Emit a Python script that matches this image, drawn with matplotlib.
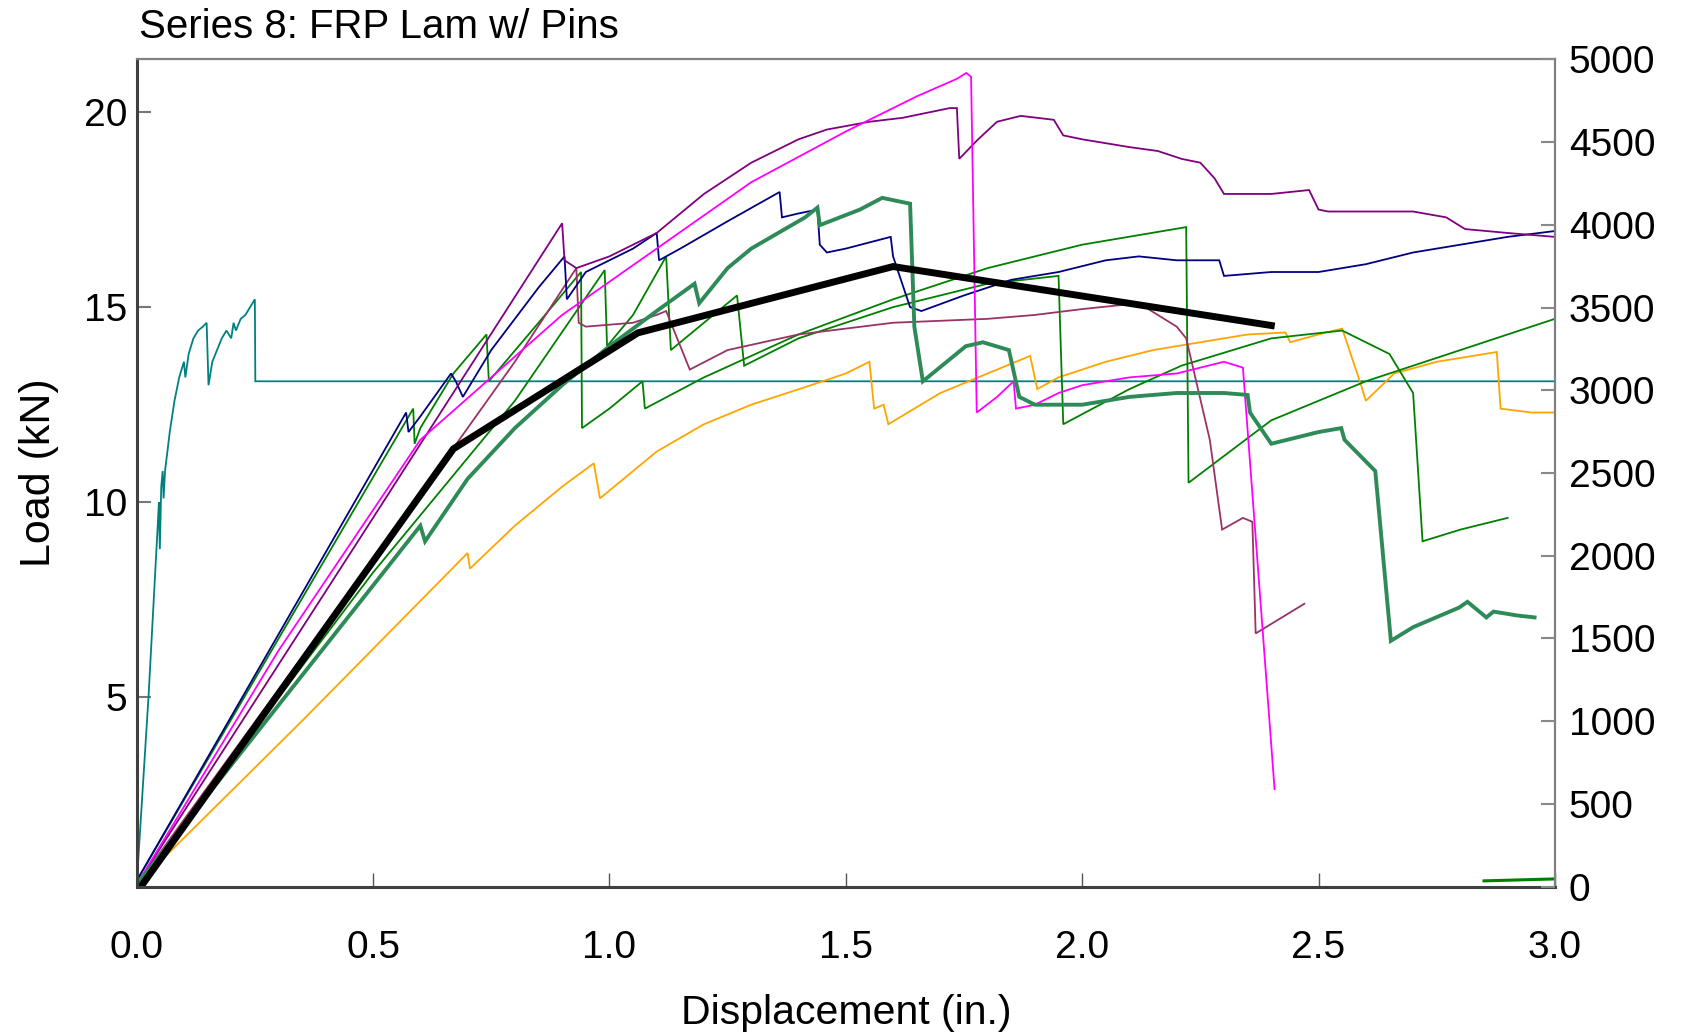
import matplotlib
matplotlib.use("Agg")
import matplotlib.pyplot as plt

plt.rcParams['font.family'] = ['Liberation Sans', 'DejaVu Sans']

# ---------------- data (displacement in., load kN) ----------------
teal_x = [0, 0.025, 0.045, 0.047, 0.049, 0.052, 0.055, 0.057, 0.06, 0.07, 0.08, 0.09, 0.1, 0.103, 0.11, 0.12, 0.13, 0.14, 0.148, 0.152, 0.16, 0.17, 0.18, 0.19, 0.2, 0.205, 0.21, 0.22, 0.23, 0.24, 0.25, 0.251, 3.0]
teal_y = [0.2, 5.0, 9.5, 10.0, 8.8, 10.4, 10.8, 10.1, 10.8, 11.8, 12.6, 13.2, 13.6, 13.2, 13.8, 14.2, 14.4, 14.5, 14.6, 13.0, 13.6, 13.9, 14.2, 14.4, 14.2, 14.6, 14.4, 14.7, 14.8, 15.0, 15.2, 13.1, 13.1]

navy_x = [0, 0.57, 0.575, 0.6, 0.665, 0.675, 0.69, 0.75, 0.85, 0.905, 0.91, 0.95, 1.0, 1.05, 1.10, 1.105, 1.15, 1.25, 1.36, 1.365, 1.40, 1.44, 1.445, 1.46, 1.50, 1.595, 1.60, 1.636, 1.66, 1.75, 1.85, 1.95, 2.05, 2.12, 2.2, 2.29, 2.30, 2.4, 2.5, 2.6, 2.7, 2.8, 2.9, 3.0]
navy_y = [0.3, 12.3, 11.8, 12.2, 13.3, 13.1, 12.7, 13.9, 15.5, 16.3, 15.2, 15.9, 16.2, 16.5, 16.9, 16.2, 16.5, 17.2, 17.95, 17.3, 17.4, 17.5, 16.6, 16.4, 16.5, 16.8, 16.3, 15.0, 14.9, 15.3, 15.7, 15.9, 16.2, 16.3, 16.2, 16.2, 15.8, 15.9, 15.9, 16.1, 16.4, 16.6, 16.8, 16.95]

purple_x = [0, 0.5, 0.9, 0.905, 0.93, 1.0, 1.1, 1.2, 1.3, 1.4, 1.46, 1.55, 1.62, 1.72, 1.735, 1.74, 1.78, 1.82, 1.87, 1.94, 1.96, 2.0, 2.1, 2.16, 2.21, 2.25, 2.28, 2.30, 2.40, 2.48, 2.50, 2.52, 2.70, 2.77, 2.81, 2.9, 3.0]
purple_y = [0.2, 9.6, 17.15, 16.2, 16.0, 16.3, 16.9, 17.9, 18.7, 19.3, 19.55, 19.75, 19.85, 20.1, 20.1, 18.8, 19.3, 19.75, 19.9, 19.8, 19.4, 19.3, 19.1, 19.0, 18.8, 18.7, 18.3, 17.9, 17.9, 18.0, 17.5, 17.45, 17.45, 17.3, 17.0, 16.9, 16.8]

magenta_x = [0, 0.3, 0.6, 0.9, 1.1, 1.3, 1.5, 1.65, 1.735, 1.755, 1.765, 1.777, 1.82, 1.855, 1.86, 1.9, 1.95, 2.0, 2.1, 2.2, 2.3, 2.34, 2.407]
magenta_y = [0.2, 6.2, 11.6, 14.8, 16.5, 18.2, 19.5, 20.4, 20.85, 21.0, 20.9, 12.3, 12.7, 13.1, 12.4, 12.5, 12.8, 13.0, 13.2, 13.3, 13.6, 13.45, 2.65]

orange_x = [0, 0.35, 0.7, 0.705, 0.8, 0.9, 0.967, 0.98, 1.1, 1.2, 1.3, 1.414, 1.5, 1.55, 1.56, 1.58, 1.59, 1.7, 1.8, 1.89, 1.905, 1.95, 2.05, 2.15, 2.25, 2.35, 2.43, 2.44, 2.5, 2.55, 2.59, 2.6, 2.66, 2.75, 2.877, 2.885, 2.95, 3.0]
orange_y = [0.2, 4.4, 8.7, 8.3, 9.4, 10.4, 11.0, 10.1, 11.3, 12.0, 12.5, 12.95, 13.3, 13.6, 12.4, 12.5, 12.0, 12.8, 13.3, 13.75, 12.9, 13.2, 13.6, 13.9, 14.1, 14.3, 14.35, 14.1, 14.3, 14.45, 13.0, 12.6, 13.3, 13.6, 13.85, 12.4, 12.3, 12.3]

seagreen_x = [0, 0.3, 0.6, 0.61, 0.7, 0.8, 0.9, 1.0, 1.1, 1.18, 1.19, 1.25, 1.3, 1.414, 1.44, 1.445, 1.53, 1.577, 1.636, 1.645, 1.663, 1.754, 1.79, 1.845, 1.867, 1.9, 2.0, 2.1, 2.2, 2.3, 2.35, 2.355, 2.40, 2.50, 2.548, 2.555, 2.62, 2.653, 2.70, 2.797, 2.815, 2.855, 2.87, 2.92, 2.957]
seagreen_y = [0.2, 4.8, 9.4, 9.0, 10.6, 11.9, 13.0, 14.0, 14.9, 15.6, 15.1, 16.0, 16.5, 17.3, 17.55, 17.1, 17.5, 17.8, 17.65, 14.5, 13.1, 14.0, 14.1, 13.9, 12.7, 12.5, 12.5, 12.7, 12.8, 12.8, 12.75, 12.3, 11.5, 11.8, 11.9, 11.6, 10.8, 6.45, 6.8, 7.3, 7.45, 7.05, 7.2, 7.1, 7.05]

maroon_x = [0, 0.3, 0.6, 0.8, 0.93, 0.935, 0.95, 1.05, 1.1, 1.12, 1.17, 1.25, 1.4, 1.6, 1.8, 1.9, 2.0, 2.12, 2.2, 2.22, 2.27, 2.296, 2.34, 2.36, 2.367, 2.47]
maroon_y = [0.2, 5.2, 10.2, 13.6, 16.0, 14.6, 14.5, 14.6, 14.8, 14.9, 13.4, 13.9, 14.3, 14.6, 14.7, 14.8, 14.95, 15.1, 14.5, 14.2, 11.6, 9.3, 9.6, 9.5, 6.64, 7.4]

greenA_x = [0, 0.585, 0.588, 0.6, 0.67, 0.74, 0.745, 0.85, 0.94, 0.942, 1.0, 1.07, 1.075, 1.2, 1.4, 1.6, 1.8, 2.0, 2.22, 2.225, 2.4, 2.6, 2.8, 3.0]
greenA_y = [0.3, 12.4, 11.5, 11.9, 13.3, 14.3, 13.1, 14.6, 15.9, 11.9, 12.4, 13.1, 12.4, 13.2, 14.3, 15.2, 16.0, 16.6, 17.05, 10.5, 12.1, 13.1, 13.9, 14.7]

greenB_x = [0, 0.5, 0.8, 0.99, 0.995, 1.05, 1.12, 1.13, 1.2, 1.27, 1.285, 1.4, 1.6, 1.8, 1.95, 1.96, 2.1, 2.21, 2.4, 2.55, 2.65, 2.7, 2.72, 2.8, 2.9]
greenB_y = [0.2, 8.2, 12.6, 15.95, 14.0, 14.8, 16.3, 13.9, 14.6, 15.3, 13.5, 14.2, 15.0, 15.6, 15.8, 12.0, 12.9, 13.5, 14.2, 14.4, 13.8, 12.8, 9.0, 9.3, 9.6]

greenC_x = [2.85, 3.0]
greenC_y = [0.3, 0.35]

avg_x = [0, 0.67, 1.06, 1.6, 2.4]
avg_y = [0, 11.37, 14.34, 16.04, 14.53]

x_ticks = [0.0, 0.5, 1.0, 1.5, 2.0, 2.5, 3.0]
x_ticklabels = ["0.0", "0.5", "1.0", "1.5", "2.0", "2.5", "3.0"]
left_ticks = [5, 10, 15, 20]
right_ticks = [0, 500, 1000, 1500, 2000, 2500, 3000, 3500, 4000, 4500, 5000]

# ---------------- figure ----------------
fig = plt.figure(figsize=(16.83, 10.33), dpi=100)
ax = fig.add_axes([0.0812, 0.1416, 0.8427, 0.801])

thin = 1.3
series = [
    (teal_x, teal_y, '#008080', thin),
    (orange_x, orange_y, '#FFA500', thin),
    (greenA_x, greenA_y, '#008000', thin),
    (greenB_x, greenB_y, '#008000', thin),
    (greenC_x, greenC_y, '#008000', 2.2),
    (maroon_x, maroon_y, '#993366', thin),
    (navy_x, navy_y, '#000080', thin),
    (purple_x, purple_y, '#800080', thin),
    (magenta_x, magenta_y, '#FF00FF', thin),
    (seagreen_x, seagreen_y, '#2E8B57', 2.8),
    (avg_x, avg_y, '#000000', 5.0),
]
for xs, ys, c, lw in series:
    ax.plot(xs, ys, color=c, lw=lw, solid_joinstyle='miter')

ax.set_xlim(0, 3.0)
ax.set_ylim(0.15, 21.35)
ax.set_xticks(x_ticks)
ax.set_xticklabels(x_ticklabels)
ax.set_yticks(left_ticks)
ax.tick_params(axis='x', direction='in', length=10, width=1, color='#555555', labelsize=28, pad=31)
ax.tick_params(axis='y', direction='in', length=10, width=1.5, color='#777777', labelsize=28, pad=7)
for s in ['left', 'bottom']:
    ax.spines[s].set_color('#404040')
    ax.spines[s].set_linewidth(2.2)
for s in ['top', 'right']:
    ax.spines[s].set_color('#808080')
    ax.spines[s].set_linewidth(1.6)

ax2 = ax.twinx()
ax2.set_ylim(0, 5000)
ax2.set_yticks(right_ticks)
ax2.tick_params(axis='y', direction='in', length=10, width=1.5, color='#888888', labelsize=28, pad=10)
for s in ax2.spines.values():
    s.set_visible(False)

ax.set_xlabel('Displacement (in.)', fontsize=29.5, labelpad=20)
ax.set_ylabel('Load (kN)', fontsize=31, labelpad=18)
fig.text(0.0826, 1 - 26.5 / 1033, 'Series 8: FRP Lam w/ Pins', fontsize=29, va='center', ha='left')

fig.savefig('out.png', dpi=100)
